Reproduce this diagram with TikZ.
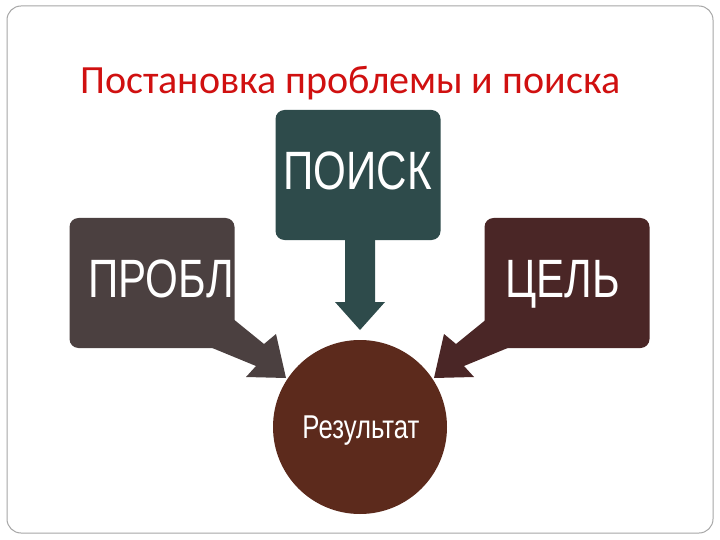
\documentclass[tikz,border=0pt]{standalone}
\usepackage{fontspec}
\setmainfont{Carlito}
\newfontfamily\condf[FakeStretch=0.78]{Liberation Sans}
\definecolor{cprob}{HTML}{4B4040}
\definecolor{cpoisk}{HTML}{2E4B4B}
\definecolor{ccel}{HTML}{4A2626}
\definecolor{cres}{HTML}{5C2A1C}
\definecolor{ctitle}{HTML}{D01010}
\tikzset{
  box/.style={rounded corners=9pt,minimum width=165pt,minimum height=130pt,inner sep=0pt},
  lbl/.style={text=white,inner sep=0pt,font=\condf\fontsize{54}{54}\selectfont},
}
\begin{document}
\begin{tikzpicture}[x=1pt,y=-1pt]
\useasboundingbox (0,0) rectangle (720,540);
\fill[white] (0,0) rectangle (720,540);
\draw[gray!70,line width=1pt,rounded corners=14pt] (7,6) rectangle (713,533);
\node[text=ctitle,font=\fontsize{40}{40}\selectfont,anchor=base west,inner sep=0pt] (title) at (80,94) {Постановка проблемы и поиска};
% arrows
\fill[cprob] (205,345) -- (232,318) -- (264,344) -- (276,334) -- (286,378) -- (246,377) -- (256,366) -- cycle;
\fill[ccel] (515,345) -- (488,318) -- (456,344) -- (444,334) -- (434,378) -- (474,377) -- (464,366) -- cycle;
\fill[cpoisk] (345,235) -- (375,235) -- (375,302) -- (385,302) -- (360,330) -- (335,302) -- (345,302) -- cycle;
% boxes
\node[box,fill=cprob] (prob) at (152,283) {};
\node[lbl,anchor=base west] (probt) at (88,297) {ПРОБЛ};
\node[box,fill=cpoisk] (poisk) at (358,175) {};
\node[lbl,anchor=base east] (poiskt) at (432,190) {ПОИСК};
\node[box,fill=ccel] (cel) at (567,283) {};
\node[lbl,anchor=base east] (celt) at (620,297) {ЦЕЛЬ};
\node[circle,fill=cres,minimum size=174pt,inner sep=0pt] (res) at (360,427) {};
\node[text=white,inner sep=0pt,anchor=base,font=\condf\fontsize{33}{33}\selectfont] (rest) at (361,438) {Результат};
\end{tikzpicture}
\end{document}
